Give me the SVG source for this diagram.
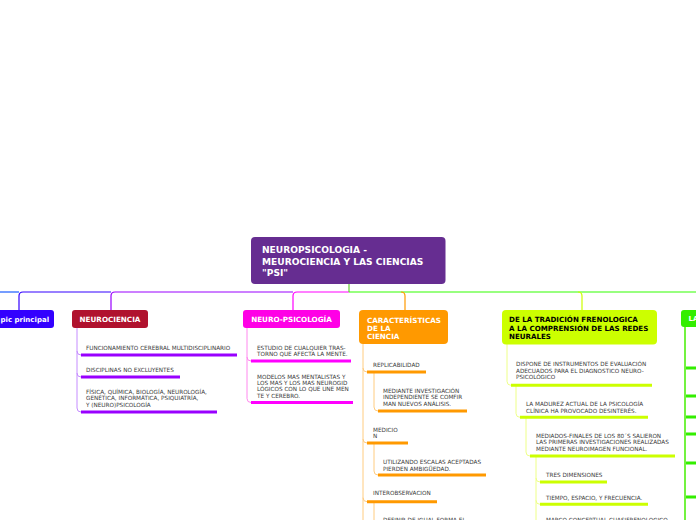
<svg xmlns="http://www.w3.org/2000/svg" width="696" height="520" viewBox="0 0 696 520">
<style>
.nt{font-family:"DejaVu Sans","Liberation Sans",sans-serif;font-weight:bold;fill:#fff}
.t{font-family:"DejaVu Sans","Liberation Sans",sans-serif;font-size:5.7px;fill:#3a3a3a}
.thin{fill:none;stroke-width:1}
.main{fill:none;stroke-width:1.2}
.bar{fill:none;stroke-width:3}
</style>
<rect width="696" height="520" fill="#fff"/>
<g id="connectors">
  <path class="main" d="M0 292 H19" stroke="#1a5cff"/>
  <path class="main" d="M111 292 H23 Q19 292 19 296 V310" stroke="#3300ff"/>
  <path class="main" d="M293 292 H115 Q111 292 111 296 V310" stroke="#9900ff"/>
  <path class="main" d="M349 292 H297 Q293 292 293 296 V310" stroke="#ff00ff"/>
  <path class="main" d="M349 284 V292" stroke="#66cc33"/>
  <path class="main" d="M349 292 H696" stroke="#33ff00"/>
  <path class="main" d="M401 292 Q405 292 405 296 V310" stroke="#ff9900"/>
  <path class="main" d="M578 292 Q582 292 582 296 V310" stroke="#ccff00"/>

  <path class="thin" stroke="#c58cff" d="M77 328 V408 Q77 412 81 412 M77 351 Q77 355 81 355 M77 373 Q77 377 81 377"/>
  <path class="bar" stroke="#9900ff" d="M81 355 H237 M81 377 H180 M81 412 H217"/>

  <path class="thin" stroke="#ff88ee" d="M247 328 V398.5 Q247 402.5 251 402.5 M247 357 Q247 361 251 361"/>
  <path class="bar" stroke="#ff00ff" d="M251 361 H351 M251 402.5 H353"/>

  <path class="thin" stroke="#ffcc80" d="M363 344 V520 M363 368 Q363 372 367 372 M363 439 Q363 443 367 443 M363 497.7 Q363 501.7 367 501.7 M374 372 V407 Q374 411 378 411 M374 443 V471 Q374 475 378 475 M374 501.7 V520"/>
  <path class="bar" stroke="#ff9900" d="M367 372 H426 M378 411 H467 M367 443 H408 M378 475 H486 M367 501.7 H437"/>

  <path class="thin" stroke="#eeff88" d="M507 344 V381.3 Q507 385.3 511 385.3 M516 385.3 V413.3 Q516 417.3 520 417.3 M526 417.3 V452 Q526 456 530 456 M536 456 V520 M536 478 Q536 482 540 482 M536 500.3 Q536 504.3 540 504.3"/>
  <path class="bar" stroke="#ccff00" d="M511 385.3 H652 M520 417.3 H648 M530 456 H675 M540 482 H607 M540 504.3 H648"/>

  <path fill="none" stroke="#44ee00" stroke-width="1.5" d="M685 327 V520"/>
  <path class="bar" stroke="#33ee00" d="M686 368 H696 M686 396 H696 M686 417 H696 M686 434 H696 M686 463 H696 M686 497 H696"/>
</g>

<g id="central">
  <rect x="251" y="237" width="194.5" height="47" rx="4" fill="#662d91"/>
  <text class="nt" font-size="9.1" x="262" y="253">NEUROPSICOLOGIA -</text>
  <text class="nt" font-size="9.1" x="262" y="264.5">MEUROCIENCIA Y LAS CIENCIAS</text>
  <text class="nt" font-size="9.1" x="262" y="276">"PSI"</text>
</g>

<g id="topic-principal">
  <rect x="-10" y="310" width="64" height="18" rx="3" fill="#3300ff"/>
  <text class="nt" font-size="7" x="0.5" y="321.5">pic principal</text>
</g>

<g id="neurociencia">
  <rect x="72" y="310" width="76" height="18" rx="3" fill="#b0122e"/>
  <text class="nt" font-size="7.2" x="110" y="321.8" text-anchor="middle">NEUROCIENCIA</text>
</g>
<g id="n1"><text class="t" x="86" y="349.5">FUNCIONAMIENTO CEREBRAL MULTIDISCIPLINARIO</text></g>
<g id="n2"><text class="t" x="86" y="371.5">DISCIPLINAS NO EXCLUYENTES</text></g>
<g id="n3"><text class="t" x="86" y="393.5">FÍSICA, QUÍMICA, BIOLOGÍA, NEUROLOGÍA,</text><text class="t" x="86" y="400">GENÉTICA, INFORMÁTICA, PSIQUIATRÍA,</text><text class="t" x="86" y="406.5">Y (NEURO)PSICOLOGÍA</text></g>

<g id="neuro-psicologia">
  <rect x="243" y="310" width="97" height="18" rx="3" fill="#ff00e6"/>
  <text class="nt" font-size="7.2" x="291.5" y="321.8" text-anchor="middle">NEURO-PSICOLOGÍA</text>
</g>
<g id="p1"><text class="t" x="257" y="349.5">ESTUDIO DE CUALQUIER TRAS-</text><text class="t" x="257" y="356">TORNO QUE AFECTA LA MENTE.</text></g>
<g id="p2"><text class="t" x="257" y="378.5">MODELOS MAS MENTALISTAS Y</text><text class="t" x="257" y="384.8">LOS MAS Y LOS MAS NEUROGID</text><text class="t" x="257" y="391.1">LÓGICOS CON LO QUE UNE MEN</text><text class="t" x="257" y="397.5">TE Y CEREBRO.</text></g>

<g id="caracteristicas">
  <rect x="359" y="310" width="89" height="34" rx="4" fill="#ff9900"/>
  <text class="nt" font-size="7.2" x="367" y="322.5">CARACTERÍSTICAS</text>
  <text class="nt" font-size="7.2" x="367" y="330.7">DE LA</text>
  <text class="nt" font-size="7.2" x="367" y="339.2">CIENCIA</text>
</g>
<g id="c1"><text class="t" x="373" y="367">REPLICABILIDAD</text></g>
<g id="c1a"><text class="t" x="383" y="392.5">MEDIANTE INVESTIGACIÓN</text><text class="t" x="383" y="399">INDEPENDIENTE SE COMFIR</text><text class="t" x="383" y="405.5">MAN NUEVOS ANÁLISIS.</text></g>
<g id="c2"><text class="t" x="373" y="432">MEDICIO</text><text class="t" x="373" y="438.3">N</text></g>
<g id="c2a"><text class="t" x="383" y="464">UTILIZANDO ESCALAS ACEPTADAS</text><text class="t" x="383" y="470.5">PIERDEN AMBIGÜEDAD.</text></g>
<g id="c3"><text class="t" x="373" y="495">INTEROBSERVACION</text></g>
<g id="c3a"><text class="t" x="383" y="521.5">DEFINIR DE IGUAL FORMA EL</text></g>

<g id="tradicion">
  <rect x="502" y="310" width="155" height="34.5" rx="4" fill="#ccff00"/>
  <text class="nt" font-size="7.1" x="509" y="322" style="fill:#000">DE LA TRADICIÓN FRENOLOGICA</text>
  <text class="nt" font-size="7.1" x="509" y="330.5" style="fill:#000">A LA COMPRENSIÓN DE LAS REDES</text>
  <text class="nt" font-size="7.1" x="509" y="339.2" style="fill:#000">NEURALES</text>
</g>
<g id="r1"><text class="t" x="516" y="366">DISPONE DE INSTRUMENTOS DE EVALUACIÓN</text><text class="t" x="516" y="372.7">ADECUADOS PARA EL DIAGNOSTICO NEURO-</text><text class="t" x="516" y="379.3">PSICOLÓGICO</text></g>
<g id="r2"><text class="t" x="526" y="406">LA MADUREZ ACTUAL DE LA PSICOLOGÍA</text><text class="t" x="526" y="412.8">CLÍNICA HA PROVOCADO DESINTERÉS.</text></g>
<g id="r3"><text class="t" x="536" y="437.5">MEDIADOS-FINALES DE LOS 80´S SALIERON</text><text class="t" x="536" y="444.3">LAS PRIMERAS INVESTIGACIONES REALIZADAS</text><text class="t" x="536" y="451">MEDIANTE NEUROIMAGEN FUNCIONAL.</text></g>
<g id="r4"><text class="t" x="546" y="477">TRES DIMENSIONES</text></g>
<g id="r5"><text class="t" x="546" y="499.5">TIEMPO, ESPACIO, Y FRECUENCIA.</text></g>
<g id="r6"><text class="t" x="546" y="521.5">MARCO CONCEPTUAL CUASIFRENOLOGICO</text></g>

<g id="right-node">
  <rect x="681" y="310" width="30" height="17" rx="3" fill="#33ee00"/>
  <text class="nt" font-size="7" x="688.5" y="321">LA</text>
</g>
</svg>
